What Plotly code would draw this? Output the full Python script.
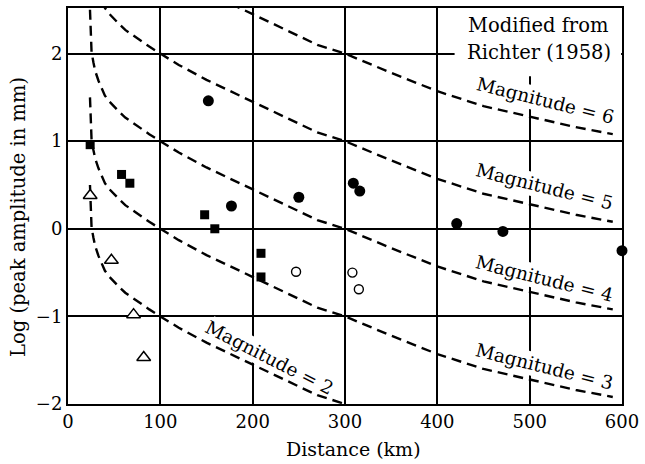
import math
import plotly.graph_objects as go

# ---- data ----
# attenuation curve for magnitude 3 (log peak amplitude vs distance)
curve_dist = [23.8, 24.5, 25.5, 27.5, 29.5, 33, 37, 40, 45, 50, 56, 62, 70, 78, 88,
              100, 120, 150, 200, 250, 270, 300, 350, 400, 450, 500, 550, 590]
curve_m3 = [1.5, 1.2, 1.02, 0.9, 0.8, 0.69, 0.59, 0.52, 0.45, 0.39, 0.33, 0.27, 0.21, 0.15, 0.08,
            0.0, -0.13, -0.3, -0.55, -0.8, -0.9, -1.0, -1.22, -1.43, -1.6, -1.72, -1.84, -1.92]
magnitudes = [2, 3, 4, 5, 6]

filled_circle_x = [152, 177, 250, 309, 316, 421, 471, 600]
filled_circle_y = [1.46, 0.26, 0.36, 0.52, 0.43, 0.06, -0.03, -0.25]
filled_square_x = [24, 58, 67, 148, 159, 209, 209]
filled_square_y = [0.96, 0.62, 0.52, 0.16, 0.0, -0.28, -0.55]
open_circle_x = [247, 308, 315]
open_circle_y = [-0.49, -0.5, -0.69]
open_triangle_x = [24, 47, 71, 82]
open_triangle_y = [0.38, -0.36, -0.98, -1.47]

x_ticks = [0, 100, 200, 300, 400, 500, 600]
x_ticktext = ["0", "100", "200", "300", "400", "500", "600"]
y_ticks = [-2, -1, 0, 1, 2]
y_ticktext = ["\u22122", "\u22121", "0", "1", "2"]

# label positions (distance, log amplitude, angle)
label_mag = [6, 5, 4, 3, 2]
label_x = [517.6, 515.7, 515.7, 515.7, 217.8]
label_y = [1.46, 0.477, -0.564, -1.575, -1.47]
label_angle = [14, 14, 14, 14, 27]

FONT = "DejaVu Serif"
W, H = 645, 464
ML, MR, MT, MB = 68, 18, 6, 60
XR = [0, 600]
YR = [-2, 2.52]
sx = (W - ML - MR) / (XR[1] - XR[0])
sy = (H - MT - MB) / (YR[1] - YR[0])

fig = go.Figure()

for m in magnitudes:
    fig.add_trace(go.Scatter(
        x=curve_dist, y=[v + (m - 3) for v in curve_m3], mode="lines",
        line=dict(color="black", width=2.4, dash="10px,6px"),
        hoverinfo="skip", showlegend=False))

fig.add_trace(go.Scatter(x=filled_circle_x, y=filled_circle_y, mode="markers",
                         marker=dict(symbol="circle", size=11, color="black"),
                         cliponaxis=False, showlegend=False))
fig.add_trace(go.Scatter(x=filled_square_x, y=filled_square_y, mode="markers",
                         marker=dict(symbol="square", size=9, color="black"),
                         cliponaxis=False, showlegend=False))
fig.add_trace(go.Scatter(x=open_circle_x, y=open_circle_y, mode="markers",
                         marker=dict(symbol="circle", size=9, color="white",
                                     line=dict(color="black", width=1.4)),
                         cliponaxis=False, showlegend=False))
fig.add_trace(go.Scatter(x=open_triangle_x, y=open_triangle_y, mode="markers",
                         marker=dict(symbol="triangle-up", size=12, color="white",
                                     line=dict(color="black", width=1.5)),
                         cliponaxis=False, showlegend=False))

shapes = []
shapes.append(dict(type="rect", xref="x", yref="y", x0=418.7, x1=599, y0=1.74, y1=2.6,
                   fillcolor="white", line=dict(width=0), layer="between"))

annotations = []
for m, lx, ly, ang in zip(label_mag, label_x, label_y, label_angle):
    t = math.radians(ang)
    a, b = 68, 12
    ux, uy = math.cos(t), math.sin(t)
    vx, vy = -math.sin(t), math.cos(t)
    pts = []
    for sa, sb in [(-1, -1), (1, -1), (1, 1), (-1, 1)]:
        dxp = sa * a * ux + sb * b * vx
        dyp = sa * a * uy + sb * b * vy
        pts.append((lx + dxp / sx, ly - dyp / sy))
    path = "M " + " L ".join(f"{p[0]:.3f},{p[1]:.4f}" for p in pts) + " Z"
    shapes.append(dict(type="path", xref="x", yref="y", path=path,
                       fillcolor="white", line=dict(width=0), layer="between"))
    annotations.append(dict(x=lx, y=ly, xref="x", yref="y", text=f"Magnitude = {m}",
                            showarrow=False, textangle=ang,
                            font=dict(family=FONT, size=18.5, color="black"),
                            xanchor="center", yanchor="middle"))

annotations.append(dict(x=509.5, y=(230.3 - 26) / 88.07, xref="x", yref="y",
                        text="Modified from", showarrow=False,
                        font=dict(family=FONT, size=19.5, color="black"),
                        xanchor="center", yanchor="middle"))
annotations.append(dict(x=510.5, y=(230.3 - 53) / 88.07, xref="x", yref="y",
                        text="Richter (1958)", showarrow=False,
                        font=dict(family=FONT, size=19.5, color="black"),
                        xanchor="center", yanchor="middle"))
annotations.append(dict(x=(356 - ML) / (W - ML - MR), y=-(449 - (H - MB)) / (H - MT - MB),
                        xref="paper", yref="paper", text="Distance (km)", showarrow=False,
                        font=dict(family=FONT, size=19, color="black"),
                        xanchor="center", yanchor="middle"))
annotations.append(dict(x=(18 - ML) / (W - ML - MR), y=((H - MB) - 215.5) / (H - MT - MB),
                        xref="paper", yref="paper", text="Log (peak amplitude in mm)",
                        showarrow=False, textangle=-90,
                        font=dict(family=FONT, size=19.5, color="black"),
                        xanchor="center", yanchor="middle"))

axis_common = dict(showgrid=True, gridcolor="black", gridwidth=1.7, showline=True,
                   linecolor="black", linewidth=2, mirror=True, ticks="", zeroline=False,
                   tickfont=dict(family=FONT, size=18, color="black"))

fig.update_layout(
    width=W, height=H, margin=dict(l=ML, r=MR, t=MT, b=MB),
    paper_bgcolor="white", plot_bgcolor="white",
    font=dict(family=FONT, color="black"),
    xaxis=dict(range=XR, tickvals=x_ticks, ticktext=x_ticktext,
               ticklabeloverflow="allow", **axis_common),
    yaxis=dict(range=YR, tickvals=y_ticks, ticktext=y_ticktext, **axis_common),
    shapes=shapes, annotations=annotations, showlegend=False,
)

fig.write_html("out.html")
